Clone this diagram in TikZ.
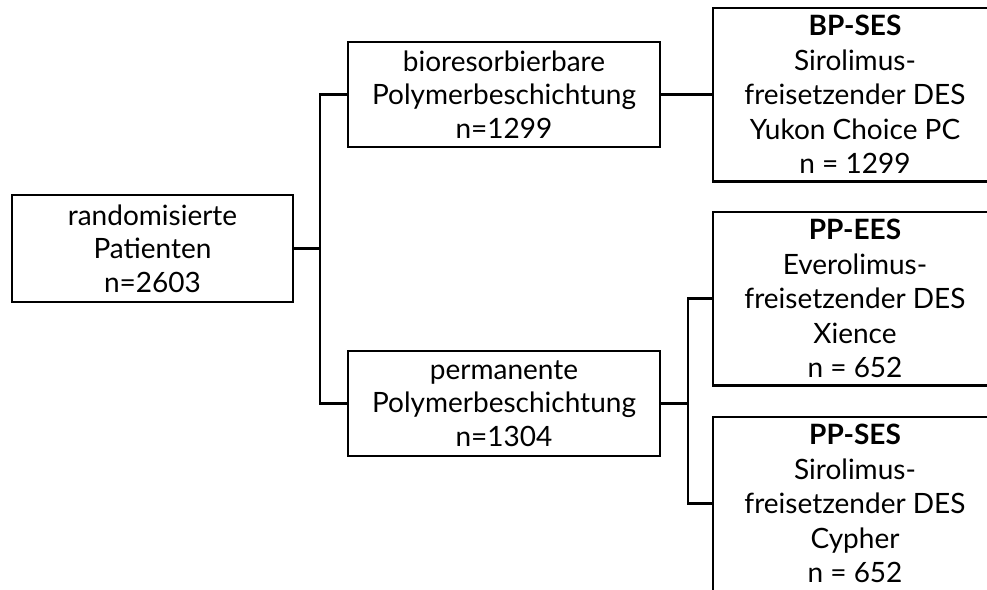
\documentclass[tikz,border=0pt]{standalone}
\usepackage{fontspec}
\setmainfont{Lato}
\begin{document}
\begin{tikzpicture}[x=1pt,y=-1pt,
  box/.style={draw, line width=2.5pt, align=center, inner sep=0pt, anchor=center,
    font=\fontsize{28}{33.5}\selectfont},
  leftbox/.style={box, minimum height=105pt},
  rightbox/.style={box, draw=none, minimum width=282pt, minimum height=171pt,
    font=\fontsize{28}{34.5}\selectfont},
  conn/.style={line width=2.5pt},
  frame/.style={line width=2.5pt}]
\useasboundingbox (0,0) rectangle (987,589);
\begin{scope}
\clip (0,0) rectangle (987,589);
\node[leftbox, minimum width=281pt, minimum height=107pt] (root) at (152.5,248.5) {randomisierte\\Patienten\\n=2603};
\node[leftbox, minimum width=312pt] (bio) at (504,94.5) {bioresorbierbare\\Polymerbeschichtung\\n=1299};
\node[leftbox, minimum width=312pt] (perm) at (504,403.5) {permanente\\Polymerbeschichtung\\n=1304};
\node[rightbox] (bp) at (855,94.5) {\textbf{BP-SES}\\Sirolimus-\\freisetzender DES\\Yukon Choice PC\\n = 1299};
\node[rightbox] (ee) at (855,298.5) {\textbf{PP-EES}\\Everolimus-\\freisetzender DES\\Xience\\n = 652};
\node[rightbox] (ps) at (855,503.5) {\textbf{PP-SES}\\Sirolimus-\\freisetzender DES\\Cypher\\n = 652};
\draw[frame] ([xshift=30pt]bp.north east) -- (bp.north west) -- (bp.south west) -- ++(320,0);
\draw[frame] ([xshift=30pt]ee.north east) -- (ee.north west) -- (ee.south west) -- ++(320,0);
\draw[frame] ([xshift=30pt]ps.north east) -- (ps.north west) -- ([yshift=-30pt]ps.south west);
\coordinate (trunk) at (320,248.5);
\coordinate (split) at (688,403.5);
\draw[conn] (root.east) -- (trunk);
\draw[conn] (bio.west) -| (trunk) |- (perm.west);
\draw[conn] (bio.east) -- (bp.west);
\draw[conn] (perm.east) -- (split);
\draw[conn] (ee.west) -| (split) |- (ps.west);
\end{scope}
\end{tikzpicture}
\end{document}
